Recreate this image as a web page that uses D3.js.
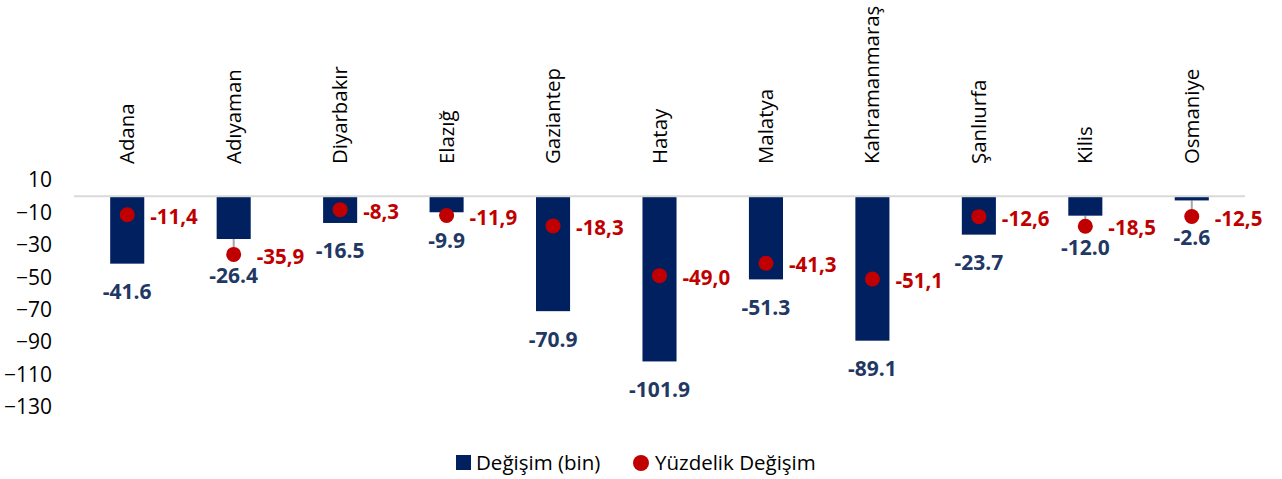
<!DOCTYPE html>
<html>
<head>
<meta charset="utf-8">
<script src="https://cdn.jsdelivr.net/npm/d3@7"></script>
<style>
  html, body { margin: 0; padding: 0; background: #fff; }
  svg { display: block; font-family: "Open Sans", "Noto Sans", sans-serif; }
</style>
</head>
<body>
<svg id="chart" width="1282" height="479"></svg>
<script>
const categories = ["Adana", "Adıyaman", "Diyarbakır", "Elazığ", "Gaziantep", "Hatay", "Malatya", "Kahramanmaraş", "Şanlıurfa", "Kilis", "Osmaniye"];
const changeValues = [-41.6, -26.4, -16.5, -9.9, -70.9, -101.9, -51.3, -89.1, -23.7, -12.0, -2.6];
const percentValues = [-11.4, -35.9, -8.3, -11.9, -18.3, -49.0, -41.3, -51.1, -12.6, -18.5, -12.5];
const yTicks = [10, -10, -30, -50, -70, -90, -110, -130];
const seriesNames = ["Değişim (bin)", "Yüzdelik Değişim"];

const barColor = "#002060";
const barLabelColor = "#1F3864";
const dotColor = "#C00000";

const svg = d3.select("#chart");
const x = d3.scaleBand().domain(categories).range([74, 1245]).paddingInner(0.68).paddingOuter(0.34);
const y = d3.scaleLinear().domain([10, -130]).range([180, 407]);

// y tick labels
const yAxis = d3.axisLeft(y).tickValues(yTicks).tickSize(0).tickPadding(0).tickFormat(d3.format("d"));
const gy = svg.append("g").attr("transform", "translate(52,0)").call(yAxis);
gy.select(".domain").remove();
gy.selectAll("text").attr("font-size", 21).attr("fill", "#000").attr("font-family", "'Open Sans', sans-serif");

// zero line
svg.append("line")
  .attr("x1", 74).attr("x2", 1245)
  .attr("y1", y(0)).attr("y2", y(0))
  .attr("stroke", "#d9d9d9").attr("stroke-width", 2);

// category labels (rotated, top)
svg.append("g").selectAll("text").data(categories).join("text")
  .attr("transform", d => `translate(${x(d) + x.bandwidth() / 2 + 7},164) rotate(-90)`)
  .attr("text-anchor", "start")
  .attr("font-size", 20.4)
  .attr("fill", "#000")
  .text(d => d);

// connector lines from bar end to dot
svg.append("g").selectAll("line").data(categories).join("line")
  .attr("x1", d => x(d) + x.bandwidth() / 2)
  .attr("x2", d => x(d) + x.bandwidth() / 2)
  .attr("y1", (d, i) => y(changeValues[i]))
  .attr("y2", (d, i) => y(Math.min(changeValues[i], percentValues[i])))
  .attr("stroke", "#a6a6a6").attr("stroke-width", 2);

// bars
svg.append("g").selectAll("rect").data(categories).join("rect")
  .attr("x", d => x(d))
  .attr("width", x.bandwidth())
  .attr("y", y(0) + 1)
  .attr("height", (d, i) => y(changeValues[i]) - y(0) - 1)
  .attr("fill", barColor);

// dots
svg.append("g").selectAll("circle").data(categories).join("circle")
  .attr("cx", d => x(d) + x.bandwidth() / 2)
  .attr("cy", (d, i) => y(percentValues[i]))
  .attr("r", 7.5)
  .attr("fill", dotColor);

// bar labels
svg.append("g").selectAll("text").data(categories).join("text")
  .attr("x", d => x(d) + x.bandwidth() / 2)
  .attr("y", (d, i) => {
    const barEnd = y(changeValues[i]) + 28;
    const dotBelow = percentValues[i] < changeValues[i] ? y(percentValues[i]) + 21 : 0;
    return Math.max(barEnd, dotBelow);
  })
  .attr("dy", "0.35em")
  .attr("text-anchor", "middle")
  .attr("font-size", 21).attr("font-weight", "bold")
  .attr("fill", barLabelColor)
  .text((d, i) => changeValues[i].toFixed(1));

// percent labels
svg.append("g").selectAll("text").data(categories).join("text")
  .attr("x", d => x(d) + x.bandwidth() / 2 + 23)
  .attr("y", (d, i) => y(percentValues[i]) + 2)
  .attr("dy", "0.35em")
  .attr("text-anchor", "start")
  .attr("font-size", 20.5).attr("font-weight", "bold")
  .attr("fill", dotColor)
  .text((d, i) => percentValues[i].toFixed(1).replace(".", ","));

// legend
const lg = svg.append("g").attr("transform", "translate(0,463)");
lg.append("rect").attr("x", 456).attr("y", -8).attr("width", 15).attr("height", 15).attr("fill", barColor);
lg.append("text").attr("x", 476).attr("y", 0).attr("dy", "0.35em").attr("font-size", 20.5).attr("fill", "#000").text(seriesNames[0]);
lg.append("circle").attr("cx", 641).attr("cy", 0).attr("r", 8).attr("fill", dotColor);
lg.append("text").attr("x", 655).attr("y", 0).attr("dy", "0.35em").attr("font-size", 20.5).attr("fill", "#000").text(seriesNames[1]);
</script>
</body>
</html>
